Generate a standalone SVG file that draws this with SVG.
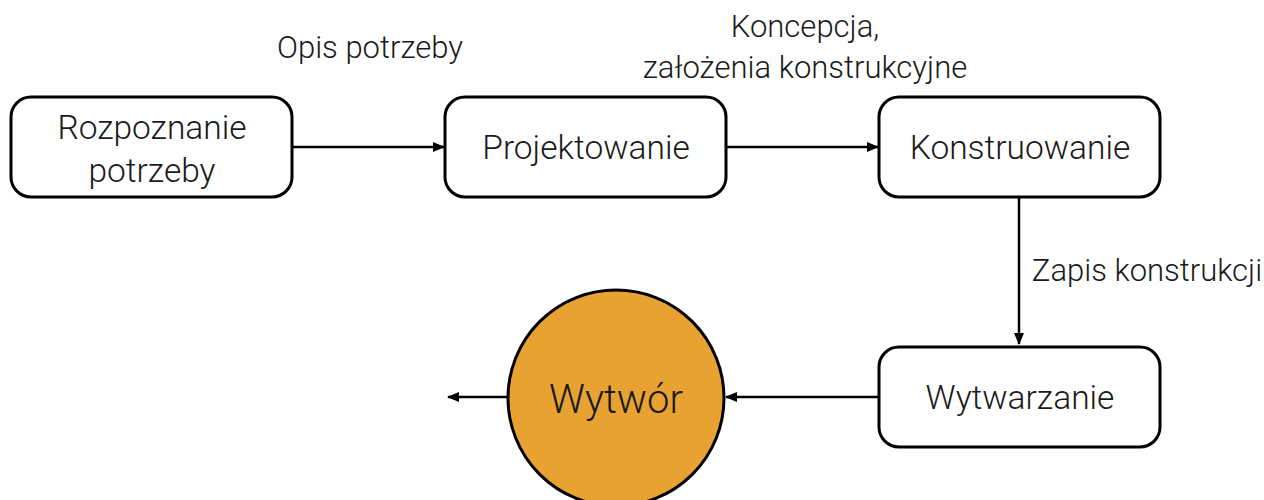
<svg xmlns="http://www.w3.org/2000/svg" width="1264" height="500" viewBox="0 0 1264 500">
<defs>
<style>
.box{fill:#fff;stroke:#000;stroke-width:3}
.t{font-family:Roboto,"Liberation Sans",sans-serif;font-weight:300;fill:#1a1a1a;text-anchor:middle}
.n{font-size:33.5px}
.l{font-size:31px}
.c{stroke:#000;stroke-width:2.5;fill:none}
</style>
<marker id="ah" viewBox="0 0 12 10" refX="11" refY="5" markerWidth="12" markerHeight="10" markerUnits="userSpaceOnUse" orient="auto">
<path d="M0,0 L12,5 L0,10 Z" fill="#000"/>
</marker>
</defs>
<rect width="1264" height="500" fill="#fff"/>
<g id="connectors">
<line class="c" x1="293" y1="147" x2="444" y2="147" marker-end="url(#ah)"/>
<line class="c" x1="727" y1="147" x2="878" y2="147" marker-end="url(#ah)"/>
<line class="c" x1="1019" y1="197" x2="1019" y2="344" marker-end="url(#ah)"/>
<line class="c" x1="878" y1="397" x2="726" y2="397" marker-end="url(#ah)"/>
<line class="c" x1="508" y1="397" x2="448" y2="397" marker-end="url(#ah)"/>
<text class="t l" x="370" y="58">Opis potrzeby</text>
<text class="t l" x="805" y="37">Koncepcja,</text>
<text class="t l" x="805" y="78">założenia konstrukcyjne</text>
<text class="t l" x="1147" y="281">Zapis konstrukcji</text>
</g>
<g id="rozpoznanie">
<rect class="box" x="11" y="97" width="281" height="100" rx="20"/>
<text class="t n" x="152" y="139">Rozpoznanie</text>
<text class="t n" x="152" y="182">potrzeby</text>
</g>
<g id="projektowanie">
<rect class="box" x="445" y="97" width="281" height="100" rx="20"/>
<text class="t n" x="586" y="159">Projektowanie</text>
</g>
<g id="konstruowanie">
<rect class="box" x="879" y="97" width="281" height="100" rx="20"/>
<text class="t n" x="1020" y="159">Konstruowanie</text>
</g>
<g id="wytwarzanie">
<rect class="box" x="879" y="347" width="281" height="100" rx="20"/>
<text class="t n" x="1020" y="409">Wytwarzanie</text>
</g>
<g id="wytwor">
<circle cx="616" cy="398" r="108" fill="#e8a232" stroke="#000" stroke-width="3"/>
<text class="t" x="616" y="413" font-size="40">Wytwór</text>
</g>
</svg>
